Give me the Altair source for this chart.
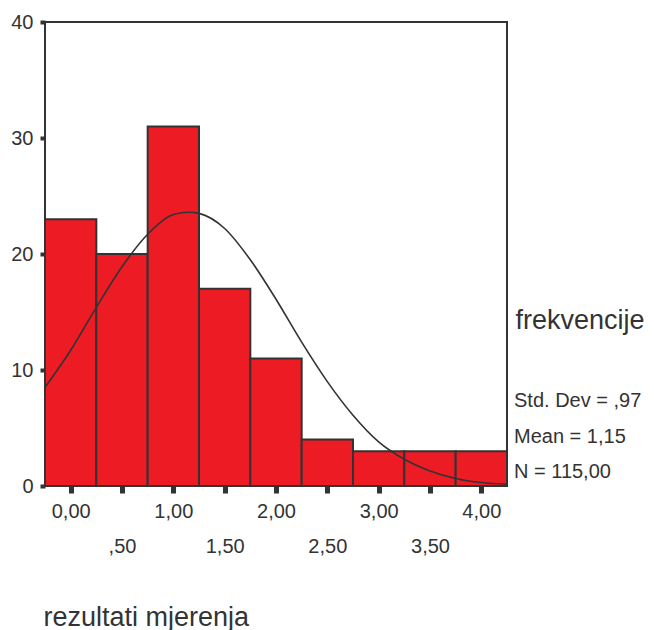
import altair as alt
import pandas as pd

# Histogram bins (centres) and frequencies
bin_centres = [0.0, 0.5, 1.0, 1.5, 2.0, 2.5, 3.0, 3.5, 4.0]
frequencies = [23, 20, 31, 17, 11, 4, 3, 3, 3]
bin_width = 0.5

# Normal curve
curve_x = [-0.25, 0.0, 0.25, 0.5, 0.75, 1.0, 1.15, 1.25, 1.5, 1.75, 2.0,
           2.25, 2.5, 2.75, 3.0, 3.25, 3.5, 3.75, 4.0, 4.25]
curve_y = [8.5, 11.7, 15.4, 18.9, 21.7, 23.4, 23.6, 23.5, 22.2, 19.5, 16.1,
           12.4, 9.0, 6.1, 3.8, 2.3, 1.3, 0.65, 0.3, 0.15]

x_tick_values = [0.0, 0.5, 1.0, 1.5, 2.0, 2.5, 3.0, 3.5, 4.0]
x_tick_labels = ["0,00", ",50", "1,00", "1,50", "2,00", "2,50", "3,00", "3,50", "4,00"]
y_tick_values = [0, 10, 20, 30, 40]

stats_lines = ["Std. Dev = ,97", "Mean = 1,15", "N = 115,00"]
y_title = "frekvencije"
x_title = "rezultati mjerenja"

FONT = "Liberation Sans"
TXT = "#333333"
W, H = 462, 464

bars = pd.DataFrame({
    "start": [c - bin_width / 2 for c in bin_centres],
    "end": [c + bin_width / 2 for c in bin_centres],
    "freq": frequencies,
})
curve = pd.DataFrame({"x": curve_x, "y": curve_y})

label_arr = "[" + ",".join("'%s'" % l for l in x_tick_labels) + "]"

x_scale = alt.Scale(domain=[-0.25, 4.25], nice=False, zero=False)
y_scale = alt.Scale(domain=[0, 40], nice=False)

x_axis = alt.Axis(
    values=x_tick_values,
    labelExpr=label_arr + "[round(datum.value*2)]",
    labelFont=FONT, labelFontSize=20, labelColor=TXT,
    labelPadding={"condition": {"test": "round(datum.value*2) % 2 == 1", "value": 43}, "value": 8},
    tickSize=7, tickWidth=5, tickColor=TXT,
    domain=False, grid=False,
    title=x_title, titleFont=FONT, titleFontSize=27, titleFontWeight="normal",
    titleColor=TXT, titleAlign="left", titleBaseline="alphabetic",
    titleAnchor="start", titleX=-2, titleY=139,
)
y_axis = alt.Axis(
    values=y_tick_values,
    labelFont=FONT, labelFontSize=20, labelColor=TXT, labelPadding=7,
    tickSize=5, tickWidth=4, tickColor=TXT,
    domain=False, grid=False,
    title=y_title, titleFont=FONT, titleFontSize=27, titleFontWeight="normal",
    titleColor=TXT, titleAngle=0, titleAlign="left", titleBaseline="alphabetic",
    titleX=470, titleY=306,
)

hist = alt.Chart(bars).mark_bar(
    color="#ED1C24", stroke="#333333", strokeWidth=2
).encode(
    x=alt.X("start:Q", scale=x_scale, axis=x_axis),
    x2="end:Q",
    y=alt.Y("freq:Q", scale=y_scale, axis=y_axis),
    y2=alt.datum(0),
)

line = alt.Chart(curve).mark_line(
    color="#333333", strokeWidth=1.6, interpolate="monotone"
).encode(
    x=alt.X("x:Q", scale=x_scale),
    y=alt.Y("y:Q", scale=y_scale),
)

layers = [hist, line]
stat_baselines = [385, 421, 456]
for txt, yb in zip(stats_lines, stat_baselines):
    layers.append(
        alt.Chart(pd.DataFrame({"t": [txt]})).mark_text(
            font=FONT, fontSize=20, color=TXT, align="left", baseline="alphabetic"
        ).encode(text="t:N", x=alt.value(469), y=alt.value(yb))
    )

chart = alt.layer(*layers).properties(
    width=W, height=H,
    autosize=alt.AutoSizeParams(type="none"),
    padding={"left": 37, "top": 14, "right": 139, "bottom": 144},
).configure(
    background="white",
    view=alt.ViewConfig(stroke="#333333", strokeWidth=2),
)

chart.save("out.html", embed_options={"renderer": "svg", "actions": False})
